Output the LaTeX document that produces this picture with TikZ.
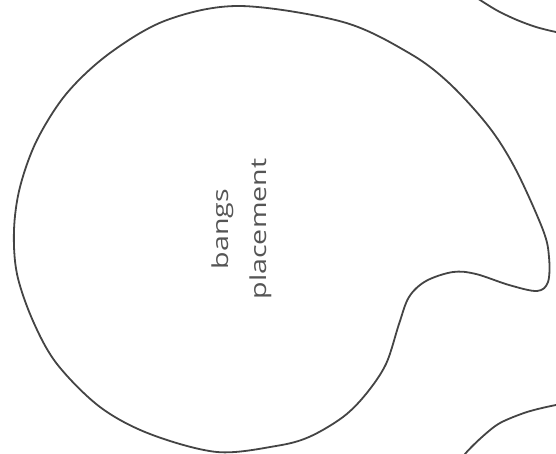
\documentclass[tikz,border=0pt]{standalone}
\usepackage{fontspec}
\setmainfont{Open Sans}
\definecolor{ink}{HTML}{444444}
\definecolor{txt}{HTML}{555555}
\newcommand{\wide}[1]{\scalebox{1.3}[1]{#1}}
\begin{document}
\begin{tikzpicture}[x=1pt,y=-1pt,
  blob/.style={draw=ink,line width=1.8pt,line join=round},
  lbl/.style={text=txt,font=\fontsize{22}{38}\selectfont,align=center,rotate=90,inner sep=0pt}]
\useasboundingbox (0,0) rectangle (556,454);
\clip (0,0) rectangle (556,454);
\draw[blob] plot[smooth cycle,tension=0.55] coordinates {
 (240,6) (343,22) (409,53) (449,83) (489,127) (516,170) (543,230) (549,257)
 (548,282) (537,291) (509,285) (476,274) (453,272) (426,281) (409,297)
 (399,324) (386,364) (366,394) (343,417) (309,437) (276,446) (217,452)
 (150,434) (100,407) (57,364) (33,321) (17,274) (14,230) (20,187) (37,140)
 (67,93) (110,53) (167,20)};
\node[lbl] (t) at (242,229) {\wide{bangs}\\\wide{placement}};
\draw[blob] plot[smooth] coordinates {(462,-12) (480,0) (498,11) (517,20) (536,27) (556,32) (575,35)};
\draw[blob] plot[smooth] coordinates {(450,475) (465,454) (482,437) (500,423) (527,412) (556,405) (575,403)};
\end{tikzpicture}
\end{document}
